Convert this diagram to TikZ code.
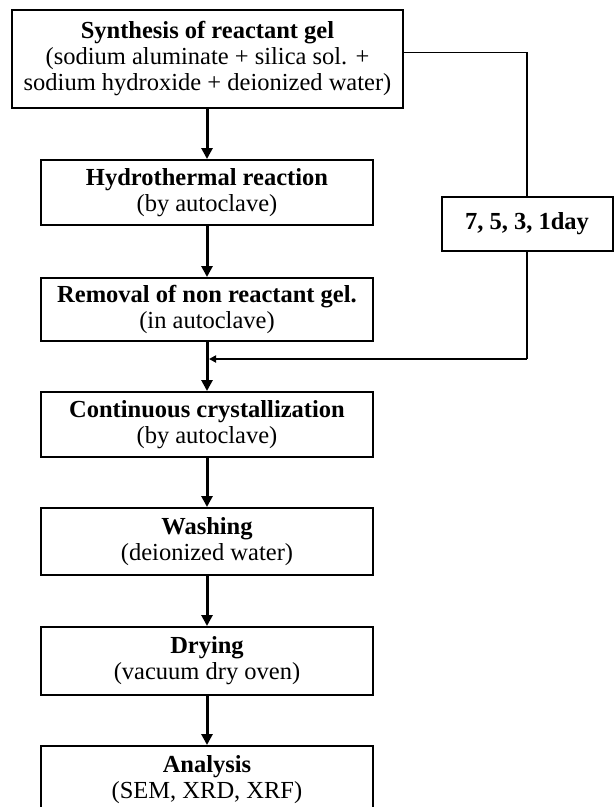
\documentclass[tikz,border=0pt]{standalone}
\usepackage{fontspec}
\setmainfont{Liberation Serif}
\usetikzlibrary{arrows.meta,calc}

\begin{document}
\begin{tikzpicture}[x=1pt,y=-1pt,
  stage/.style={draw, line width=2pt, minimum width=332pt, minimum height=65pt,
    align=center, inner sep=0pt, font=\fontsize{24.5}{26}\selectfont},
  flow/.style={line width=3pt, -{Triangle[length=11pt,width=11pt]}},
  link/.style={line width=1.5pt}]
\useasboundingbox (0,0) rectangle (616,807);
\clip (0,0) rectangle (616,807);
\node [stage, minimum width=391pt, minimum height=98pt] (syn) at (207.5,59)
  {\textbf{Synthesis of reactant gel}\\(sodium aluminate + silica sol. +\\sodium hydroxide + deionized water)};
\node [stage] (hyd) at (207,192.5) {\textbf{Hydrothermal reaction}\\(by autoclave)};
\node [stage, minimum width=171pt, minimum height=54pt] (days) at (527,224) {\textbf{7, 5, 3, 1day}};
\node [stage, minimum height=63pt] (rem) at (207,309.5) {\textbf{Removal of non reactant gel.}\\(in autoclave)};
\node [stage] (cry) at (207,424.5) {\textbf{Continuous crystallization}\\(by autoclave)};
\node [stage, minimum height=67pt] (wash) at (207,541.5) {\textbf{Washing}\\(deionized water)};
\node [stage, minimum height=68pt] (dry) at (207,661) {\textbf{Drying}\\(vacuum dry oven)};
\node [stage, minimum height=67pt] (ana) at (207,779.5) {\textbf{Analysis}\\(SEM, XRD, XRF)};
\coordinate (turn) at (527,52.5);
\coordinate (merge) at (209,359);
\draw [flow] (syn.south -| hyd.north) -- (hyd.north);
\draw [flow] (hyd) -- (rem);
\draw [flow] (rem) -- (cry);
\draw [flow] (cry) -- (wash);
\draw [flow] (wash) -- (dry);
\draw [flow] (dry) -- (ana);
\draw [link] (syn.east |- turn) -- (turn) -- (days.north);
\draw [link] (days.south) -- (days.south |- merge);
\draw [line width=2.6pt, -{Triangle[length=7pt,width=7pt]}] (days.south |- merge) -- (merge);
\end{tikzpicture}
\end{document}
